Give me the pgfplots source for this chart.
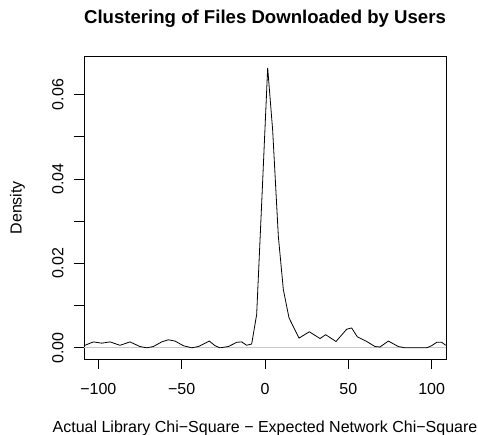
\documentclass[border=0pt]{standalone}
\usepackage{pgfplots}
\pgfplotsset{compat=1.18}
\usepackage{fontspec}
\setmainfont{Liberation Sans}
\definecolor{zerogray}{RGB}{200,200,200}
\begin{document}
\begin{tikzpicture}[x=1bp,y=1bp]
\path[use as bounding box] (-84,-76) rectangle (394,359);
\begin{axis}[
  name=ax, at={(0,0)}, anchor=south west,
  scale only axis, width=362bp, height=302.5bp,
  xmin=-108.6, xmax=108.6, ymin=-0.00265, ymax=0.069,
  axis line style={line width=0.7bp, black},
  tick align=outside, major tick length=10bp,
  tick style={line width=0.7bp, black},
  xtick={-100,-50,0,50,100},
  xticklabels={−100,−50,0,50,100},
  ytick={0,0.01,0.02,0.03,0.04,0.05,0.06},
  yticklabels={0.00,,0.02,,0.04,,0.06},
  scaled y ticks=false,
  xtick pos=bottom, ytick pos=left,
  /pgf/number format/assume math mode=true,
  tick label style={font=\fontsize{16bp}{18bp}\selectfont},
  xticklabel style={anchor=base, yshift=-26bp},
  yticklabel style={xshift=-10.7bp, rotate=90, anchor=base},
  clip=true,
]
\addplot[zerogray, line width=0.7bp] coordinates {(-108.6,0) (108.6,0)};
\addplot[black, line width=0.8bp] coordinates {
(-108.6,0.0005) (-103,0.0014) (-98,0.0011) (-93,0.0014) (-87,0.0006) (-81,0.0014)
(-75,0.0003) (-71,0) (-67,0.0003) (-62,0.0014) (-58,0.0019) (-54,0.0016)
(-49,0.0005) (-44,0) (-40,0.0003) (-33.4,0.0016) (-30,0.0005) (-27,0)
(-22,0.0003) (-17,0.0013) (-14,0.0014) (-11,0.0006) (-8,0.0009) (-5,0.0079)
(-2,0.0342) (1.6,0.0663) (4.6,0.0515) (8,0.0264) (11,0.0138) (14.4,0.0071)
(20.4,0.0023) (26.6,0.0038) (33,0.0022) (36.4,0.0031) (42.6,0.0015) (49,0.0044)
(52,0.0047) (55.4,0.0026) (61,0.0015) (66,0.0003) (69,0.0002) (74,0.0016)
(80,0.0003) (84,0) (97,0) (100,0.0005) (103,0.0013) (106,0.0013) (108.4,0.0006)
};
\end{axis}
\node[font=\bfseries\fontsize{18.6bp}{22bp}\selectfont, anchor=base] at (181,335.7) {Clustering of Files Downloaded by Users};
\node[font=\fontsize{16bp}{18bp}\selectfont, anchor=base] at (181,-73.7) {Actual Library Chi−Square − Expected Network Chi−Square};
\node[font=\fontsize{16bp}{18bp}\selectfont, rotate=90] at (-66.5,151.3) {Density};
\end{tikzpicture}
\end{document}
